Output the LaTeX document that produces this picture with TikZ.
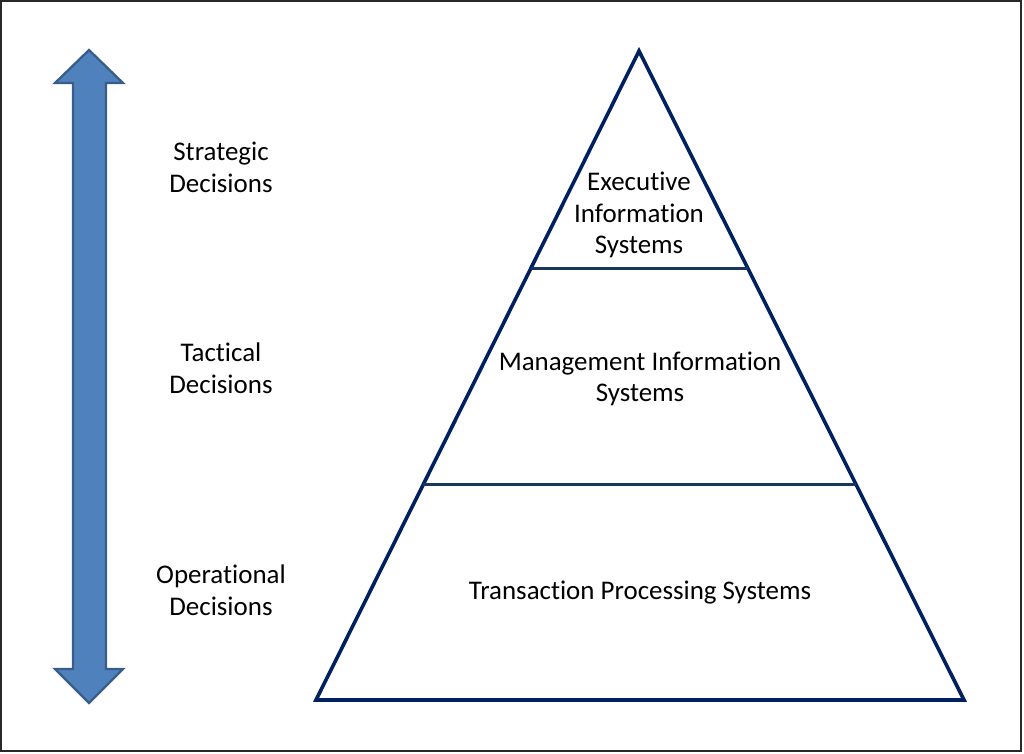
\documentclass[tikz,border=0pt]{standalone}
\usepackage{fontspec}
\setmainfont{Carlito}[RawFeature=-liga]
\usepackage{tikz}
\usetikzlibrary{calc}
\usepackage{xcolor}
\definecolor{arrowfill}{RGB}{79,129,189}
\definecolor{arrowline}{RGB}{56,93,138}
\definecolor{pyrline}{RGB}{0,32,96}
\definecolor{layerline}{RGB}{23,55,94}
\tikzset{every picture/.style={line width=0.75pt}}
\tikzset{
  label text/.style={anchor=center, inner sep=0.75pt, align=center, font=\fontsize{20.2}{23.8}\selectfont},
  layer line/.style={draw=layerline, line width=2.25pt}
}

\begin{document}
\begin{tikzpicture}[x=0.75pt,y=0.75pt,yscale=-1,xscale=1]
\useasboundingbox (0,0) rectangle (1024,753);
%Shape: Rectangle
\draw [color={rgb, 255:red, 40; green, 40; blue, 40 }, line width=1.5pt] (1,1) rectangle (1021,751);
%Shape: Up Down Arrow
\draw [color=arrowline, fill=arrowfill, line width=1.7pt, line join=miter] (89,50) -- (123,83) -- (106,83) -- (106,669) -- (123,669) -- (89,703) -- (55,669) -- (73,669) -- (73,83) -- (55,83) -- cycle ;
%Shape: Triangle
\coordinate (apex) at (639,51);
\coordinate (baseL) at (316,700);
\coordinate (baseR) at (964,700);
\draw [color=pyrline, line width=2.7pt, line join=miter] (apex) -- (baseR) -- (baseL) -- cycle ;
%Straight Lines
\draw [layer line] ($(apex)!0.3344!(baseL)$) -- ($(apex)!0.3344!(baseR)$) ;
%Straight Lines
\draw [layer line] ($(apex)!0.6687!(baseL)$) -- ($(apex)!0.6687!(baseR)$) ;
% Text Node
\node (eis) at (639,215) [label text] {Executive\\Information\\Systems};
% Text Node
\node (mis) at (640,379) [label text] {Management Information\\Systems};
% Text Node
\node (tps) at (640,593) [label text] {Transaction Processing Systems};
% Text Node
\node (strategic) at (221,167) [label text] {Strategic\\Decisions};
% Text Node
\node (tactical) at (221,368) [label text] {Tactical\\Decisions};
% Text Node
\node (operational) at (221,590) [label text] {Operational\\Decisions};
\end{tikzpicture}
\end{document}
